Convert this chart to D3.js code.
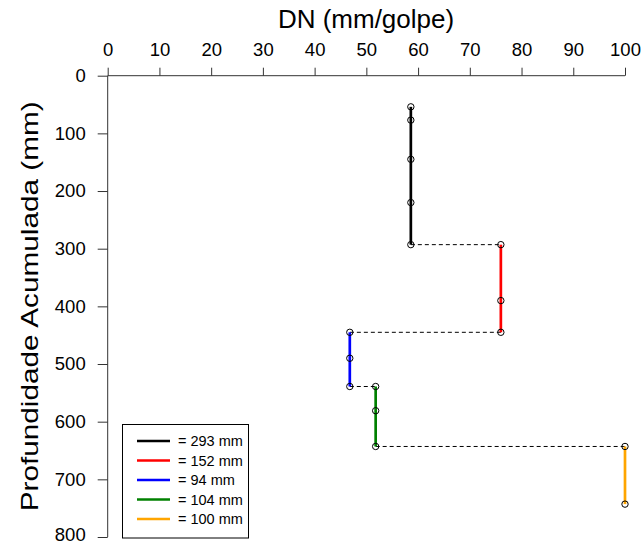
<!DOCTYPE html>
<html><head><meta charset="utf-8">
<script src="https://cdn.jsdelivr.net/npm/d3@7"></script>
<style>body{margin:0;background:#fff}svg text{font-family:"Liberation Sans",Arial,sans-serif}</style>
</head><body><svg id="c" width="642" height="545"></svg>
<script>
const xTicks = [0,10,20,30,40,50,60,70,80,90,100];
const yTicks = [0,100,200,300,400,500,600,700,800];
const seriesLabels = ["= 293 mm","= 152 mm","= 94 mm","= 104 mm","= 100 mm"];
const seriesColors = ["#000000","#FF0000","#0000FF","#008000","#FFA500"];
const seriesDN = [58.6, 76.0, 46.8, 51.8, 100];
const seriesDepths = [
  [54, 77, 145, 220, 293],
  [293, 390, 445],
  [445, 490, 539],
  [539, 581, 643],
  [643, 743]
];

const svg = d3.select("#c");
const x = d3.scaleLinear().domain([0,100]).range([107.7,625]);
const y = d3.scaleLinear().domain([0,800]).range([75.7,537]);

// x axis at top
const xa = svg.append("g").attr("transform",`translate(0,${y(0)})`)
  .call(d3.axisTop(x).tickValues(xTicks).tickSize(8).tickPadding(12).tickFormat(d3.format("d")));
xa.select(".domain").attr("d",`M${x(0)},0H${x(100)}`).attr("stroke","#333");
xa.selectAll(".tick line").attr("stroke","#333");
xa.selectAll("text").attr("font-size",18.5).attr("fill","#000");

const ya = svg.append("g").attr("transform",`translate(${x(0)},0)`)
  .call(d3.axisLeft(y).tickValues(yTicks).tickSize(10).tickPadding(12).tickFormat(d3.format("d")));
ya.select(".domain").attr("d",`M0,${y(0)}V${y(800)}`).attr("stroke","#333");
ya.selectAll(".tick line").attr("stroke","#333");
ya.selectAll("text").attr("font-size",18.5).attr("fill","#000")
  .attr("dy",d=>d===800?"0.2em":"0.32em");

svg.append("text").attr("x",366).attr("y",28).attr("text-anchor","middle")
  .attr("font-size",26).text("DN (mm/golpe)");
svg.append("text").attr("transform",`translate(38,${y(400)}) rotate(-90)`)
  .attr("text-anchor","middle").attr("font-size",24)
  .attr("textLength",410).attr("lengthAdjust","spacingAndGlyphs")
  .text("Profundidade Acumulada (mm)");

// dashed connectors
for (let i=0;i<seriesDN.length-1;i++){
  const d = seriesDepths[i][seriesDepths[i].length-1];
  svg.append("line").attr("x1",x(seriesDN[i])).attr("x2",x(seriesDN[i+1]))
    .attr("y1",y(d)).attr("y2",y(d))
    .attr("stroke","#000").attr("stroke-width",1).attr("stroke-dasharray","4,3");
}
// series lines
seriesDN.forEach((dn,i)=>{
  const ds = seriesDepths[i];
  svg.append("line").attr("x1",x(dn)).attr("x2",x(dn))
    .attr("y1",y(ds[0])).attr("y2",y(ds[ds.length-1]))
    .attr("stroke",seriesColors[i]).attr("stroke-width",2.7);
});
seriesDN.forEach((dn,i)=>{
  svg.append("g").selectAll("circle").data(seriesDepths[i]).join("circle")
    .attr("cx",x(dn)).attr("cy",d=>y(d)).attr("r",3.2)
    .attr("fill","none").attr("stroke","#000").attr("stroke-width",1);
});

// legend
const lg = svg.append("g");
lg.append("rect").attr("x",122.5).attr("y",424.5).attr("width",126).attr("height",113.5)
  .attr("fill","#fff").attr("stroke","#000").attr("stroke-width",1);
seriesLabels.forEach((t,i)=>{
  const yy = 441 + i*19.5;
  lg.append("line").attr("x1",137).attr("x2",170).attr("y1",yy).attr("y2",yy)
    .attr("stroke",seriesColors[i]).attr("stroke-width",2.7);
  lg.append("text").attr("x",178).attr("y",yy+5).attr("font-size",14.5).text(t);
});
</script></body></html>
